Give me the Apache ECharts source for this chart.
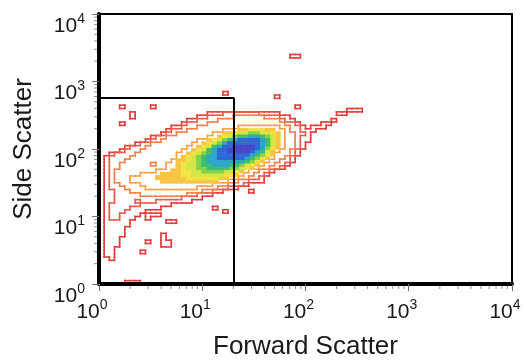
<!DOCTYPE html>
<html><head><meta charset="utf-8">
<script src="https://cdn.jsdelivr.net/npm/echarts@6/dist/echarts.min.js"></script>
<style>html,body{margin:0;padding:0;background:#fff}#c{width:524px;height:364px}</style>
</head><body><div id="c"></div>
<script>
// ---- axis / tick data ----
const decadeExponents = ['0', '1', '2', '3', '4'];
const axisMin = 1, axisMax = 10000;
const minorMultipliers = [2, 3, 4, 5, 6, 7, 8, 9];
const xTitle = 'Forward Scatter';
const yTitle = 'Side Scatter';

// ---- gate (FSC range, SSC range) ----
const gateFSC = [1, 20.3];
const gateSSC = [1, 570];

// ---- binned density: bins are 0.05 decade wide on both axes ----
const binDecades = 0.05;
// each entry: [ssc bin, first fsc bin, last fsc bin] at or above the contour level
const level1 = [[67,37,38],[56,24,24],[55,34,34],[52,4,4],[52,10,10],[52,38,38],[51,48,50],
 [50,6,6],[50,21,34],[50,46,47],[49,6,6],[49,19,36],[48,17,37],[48,45,45],
 [47,4,4],[47,16,38],[47,43,44],[46,14,39],[46,41,43],[45,13,41],[44,12,40],[43,10,40],
 [42,9,40],[41,7,39],[40,5,39],[39,4,38],[38,2,38],[37,1,37],[36,1,37],[35,1,36],[34,1,35],
 [33,1,33],[32,1,32],[31,1,31],[30,1,31],[29,1,28],[28,1,26],[27,1,23],[27,29,29],[26,1,21],
 [25,1,19],[24,1,17],[23,1,13],[22,1,11],[22,22,22],[21,1,8],[21,24,24],[20,1,7],[20,9,11],
 [19,1,6],[19,9,9],[18,1,5],[18,13,14],[17,1,5],[16,1,4],[15,1,4],[14,1,4],[14,12,12],
 [13,1,3],[13,12,12],[12,1,3],[12,9,9],[12,12,13],[11,1,3],[11,12,13],[10,1,2],[9,1,2],
 [9,8,8],[8,1,2],[7,2,2],[0,5,7]];
const level2 = [[50,24,30],[49,21,34],[48,19,35],[47,17,37],[46,16,38],[45,14,38],[44,13,39],
 [43,11,38],[42,10,38],[41,8,38],[40,6,38],[39,5,37],[38,3,37],[37,2,10],[37,12,36],[36,2,36],
 [35,2,35],[34,2,34],[33,2,32],[32,2,31],[31,2,30],[30,2,28],[29,2,27],[28,2,24],[27,3,21],
 [26,3,8],[26,10,18],[25,3,15],[24,3,6],[24,8,10],[23,2,7],[22,2,5],[21,2,4],[20,2,3],[19,2,3]];
const level3 = [[49,26,31],[48,23,34],[47,21,35],[46,19,36],[45,17,36],[44,15,37],[43,13,37],
 [42,12,37],[41,10,37],[40,9,37],[39,8,36],[38,7,36],[37,6,35],[36,5,34],[35,4,9],[35,11,33],
 [34,4,32],[33,3,30],[32,3,29],[31,3,28],[30,3,26],[29,4,24],[28,5,22],[27,6,19],[26,8,16]];
const level4 = [[46,27,34],[45,24,35],[44,22,35],[43,21,35],[42,19,35],[41,18,35],[40,17,35],
 [39,16,34],[38,15,33],[37,15,33],[36,14,32],[35,13,31],[34,13,30],[33,11,28],[32,8,27],
 [31,6,26],[30,6,24],[29,8,21],[28,9,18]];
const level5 = [[45,27,33],[44,24,34],[43,23,34],[42,21,34],[41,20,34],[40,19,34],[39,18,33],
 [38,17,33],[37,16,32],[36,15,31],[35,15,30],[34,15,29],[33,14,27],[32,12,26],[31,11,24],[30,12,22]];
const level6 = [[45,29,31],[44,26,33],[43,24,33],[42,22,33],[41,21,33],[40,20,33],[39,19,32],
 [38,18,32],[37,17,31],[36,17,30],[35,16,29],[34,16,28],[33,16,26],[32,16,25],[31,17,22]];
const level7 = [[44,27,32],[43,25,33],[42,23,33],[41,22,33],[40,21,32],[39,20,32],[38,19,31],
 [37,18,30],[36,18,29],[35,17,28],[34,17,27],[33,18,25],[32,18,23]];
const level8 = [[44,29,30],[43,26,32],[42,24,32],[41,23,32],[40,22,32],[39,21,31],[38,20,31],
 [37,19,30],[36,19,29],[35,19,27],[34,19,26],[33,20,23]];
const level9 = [[43,27,31],[42,25,32],[41,24,32],[40,22,31],[39,21,31],[38,21,30],[37,20,29],
 [36,20,28],[35,20,26],[34,21,24]];
const level10 = [[43,29,30],[42,26,31],[41,24,31],[40,23,31],[39,22,30],[38,22,29],[37,21,28],
 [36,21,27],[35,22,24]];
const level11 = [[42,27,30],[41,25,30],[40,24,30],[39,23,29],[38,23,28],[37,23,27]];
const level12 = [[40,26,29],[39,25,28]];

const levelColors = ['#e23b3b','#ec5a4e','#f2804a','#f7a046','#f9c445','#f3e445',
 '#d4e645','#84d24a','#3cbd70','#2ea6c9','#2e68d6','#4b46c6'];
const firstFilledLevel = 5;

// ---- build level grid and contour edges ----
const levels = [level1,level2,level3,level4,level5,level6,level7,level8,level9,level10,level11,level12];
const cells = {};
const key = (r, c) => r + ',' + c;
levels.forEach((runs, i) => runs.forEach(([r, a, b]) => {
  for (let c = a; c <= b; c++) { const k = key(r, c); cells[k] = Math.max(cells[k] || 0, i + 1); }
}));
const lv = (r, c) => cells[key(r, c)] || 0;
const edge = n => Math.pow(10, n * binDecades);
const segs = levels.map(() => []);
const fills = levels.map(() => []);
Object.keys(cells).forEach(k => {
  const [r, c] = k.split(',').map(Number);
  const g = cells[k];
  if (g >= firstFilledLevel) fills[g - 1].push([edge(c), edge(r), edge(c + 1), edge(r + 1)]);
  for (let L = 1; L <= g; L++) {
    const s = segs[L - 1];
    if (lv(r + 1, c) < L) s.push([edge(c), edge(r + 1), edge(c + 1), edge(r + 1)]);
    if (lv(r - 1, c) < L) s.push([edge(c), edge(r), edge(c + 1), edge(r)]);
    if (lv(r, c - 1) < L) s.push([edge(c), edge(r), edge(c), edge(r + 1)]);
    if (lv(r, c + 1) < L) s.push([edge(c + 1), edge(r), edge(c + 1), edge(r + 1)]);
  }
});

const minorVals = [];
for (let e = 0; e < decadeExponents.length - 1; e++) minorMultipliers.forEach(m => minorVals.push(m * Math.pow(10, e)));

const FONT = 'Liberation Sans';
const rich = {
  p: { fontSize: 12, lineHeight: 24, fontFamily: FONT, color: 'rgba(0,0,0,0)' },
  b: { fontSize: 21, lineHeight: 28, fontFamily: FONT, color: '#1a1a1a', verticalAlign: 'middle' },
  s: { fontSize: 14, lineHeight: 14, fontFamily: FONT, color: '#1a1a1a', verticalAlign: 'top' }
};
const expOf = v => decadeExponents[Math.round(Math.log10(v))];
const fmtX = v => '{b|10}{s|' + expOf(v) + '}';
const fmtY = v => '{p|.}\n{b|10}{s|' + expOf(v) + '}';

const chart = echarts.init(document.getElementById('c'), null, { renderer: 'canvas' });
const series = [];
fills.forEach((data, i) => {
  if (!data.length) return;
  series.push({
    type: 'custom', coordinateSystem: 'cartesian2d', data, encode: { x: [0, 2], y: [1, 3] },
    z: 2, silent: true, animation: false,
    renderItem: (p, api) => {
      const a = api.coord([api.value(0), api.value(1)]);
      const b = api.coord([api.value(2), api.value(3)]);
      return { type: 'rect', shape: { x: a[0], y: b[1], width: b[0] - a[0], height: a[1] - b[1] },
        style: { fill: levelColors[i], stroke: levelColors[i], lineWidth: 0.6 } };
    }
  });
});
segs.forEach((data, i) => series.push({
  type: 'custom', coordinateSystem: 'cartesian2d', data, encode: { x: [0, 2], y: [1, 3] },
  z: 3 + i, silent: true, animation: false,
  renderItem: (p, api) => {
    const a = api.coord([api.value(0), api.value(1)]);
    const b = api.coord([api.value(2), api.value(3)]);
    return { type: 'line', shape: { x1: a[0], y1: a[1], x2: b[0], y2: b[1] },
      style: { stroke: levelColors[i], lineWidth: 1.6, lineCap: 'square' } };
  }
}));
series.push({
  type: 'custom', coordinateSystem: 'cartesian2d', clip: false, silent: true, animation: false, z: 30,
  data: minorVals.map(v => [v, axisMin]), encode: { x: 0, y: 1 },
  renderItem: (p, api) => {
    const a = api.coord([api.value(0), axisMin]);
    return { type: 'line', shape: { x1: a[0], y1: a[1] + 2, x2: a[0], y2: a[1] + 5 },
      style: { stroke: '#8a8f99', lineWidth: 1 } };
  }
});
series.push({
  type: 'custom', coordinateSystem: 'cartesian2d', clip: false, silent: true, animation: false, z: 30,
  data: minorVals.map(v => [axisMin, v]), encode: { x: 0, y: 1 },
  renderItem: (p, api) => {
    const a = api.coord([axisMin, api.value(1)]);
    return { type: 'line', shape: { x1: a[0] - 2, y1: a[1], x2: a[0] - 5, y2: a[1] },
      style: { stroke: '#8a93a8', lineWidth: 1 } };
  }
});
series.push({
  type: 'line', symbol: 'none', silent: true, animation: false, z: 40,
  data: [[gateFSC[0], gateSSC[1]], [gateFSC[1], gateSSC[1]], [gateFSC[1], gateSSC[0]]],
  lineStyle: { color: '#000', width: 2 }
});

chart.setOption({
  animation: false,
  grid: { left: 99, right: 12, top: 14, bottom: 80, show: true, borderColor: '#000', borderWidth: 2, z: 45,
    containLabel: false, outerBoundsMode: 'none' },
  xAxis: {
    type: 'log', logBase: 10, min: axisMin, max: axisMax, z: 50,
    name: xTitle, nameLocation: 'middle', nameGap: 50,
    nameTextStyle: { fontSize: 26, fontFamily: FONT, color: '#1a1a1a' },
    axisLine: { lineStyle: { color: '#000', width: 4 } },
    axisTick: { show: true, length: 7, lineStyle: { color: '#666d78', width: 1 } },
    axisLabel: { margin: 14, verticalAlign: 'top', padding: [0, 14, 0, 0], formatter: fmtX, rich },
    splitLine: { show: false }
  },
  yAxis: {
    type: 'log', logBase: 10, min: axisMin, max: axisMax, z: 50,
    name: yTitle, nameLocation: 'middle', nameGap: 62,
    nameTextStyle: { fontSize: 26, fontFamily: FONT, color: '#1a1a1a' },
    axisLine: { lineStyle: { color: '#000', width: 4 } },
    axisTick: { show: true, length: 7, lineStyle: { color: '#6d7690', width: 1 } },
    axisLabel: { margin: 14, verticalAlign: 'middle', formatter: fmtY, rich },
    splitLine: { show: false }
  },
  series
});
</script></body></html>
